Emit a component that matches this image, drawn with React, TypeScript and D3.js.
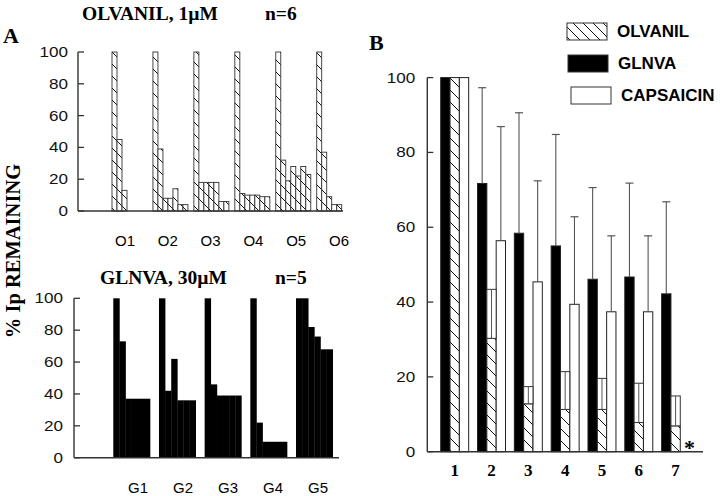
import React from "react";
import * as d3 from "d3";

// ---------- DATA ----------
const oGroups = ["O1", "O2", "O3", "O4", "O5", "O6"];
const oValues = [
  [100, 45, 13],
  [100, 39, 8, 8, 14, 4, 4],
  [100, 18, 18, 18, 18, 6, 6],
  [100, 11, 10, 10, 10, 9, 9],
  [100, 32, 19, 28, 22, 28, 23],
  [100, 37, 9, 4, 4],
];
const gGroups = ["G1", "G2", "G3", "G4", "G5"];
const gValues = [
  [100, 73, 37, 37, 37, 37],
  [100, 42, 62, 36, 36, 36],
  [100, 46, 39, 39, 39, 39],
  [100, 22, 10, 10, 10, 10],
  [100, 100, 82, 76, 68, 68],
];
const bCategories = ["1", "2", "3", "4", "5", "6", "7"];
const bSeries = ["GLNVA", "OLVANIL", "CAPSAICIN"];
const glnvaMean = [100, 71.7, 58.4, 55.0, 46.1, 46.7, 42.2];
const glnvaSD = [0, 25.6, 32.2, 29.8, 24.5, 25.1, 24.6];
const olvanilMean = [100, 30.3, 12.8, 11.3, 11.3, 7.8, 6.9];
const olvanilSD = [0, 13.1, 4.6, 10.1, 8.3, 10.5, 8.0];
const capsaicinMean = [100, 56.4, 45.4, 39.4, 37.4, 37.4, null];
const capsaicinSD = [0, 30.5, 27.0, 23.4, 20.3, 20.3, 0];
const yTickValues = [0, 20, 40, 60, 80, 100];
const legendItems = ["OLVANIL", "GLNVA", "CAPSAICIN"];

const SERIF = "'Liberation Serif', 'Times New Roman', serif";
const SANS = "'Liberation Sans', Arial, sans-serif";
const AXIS = "#333";
const ERR = "#555";

function TickLabel({ x, y, t }: { x: number; y: number; t: string }) {
  return (
    <text
      transform={`translate(${x},${y}) scale(1.22,1)`}
      textAnchor="end"
      dominantBaseline="central"
      fontFamily={SANS}
      fontSize={14}
      fill="#111"
    >
      {t}
    </text>
  );
}

function YAxis({ scale, x, labelGap }: { scale: any; x: number; labelGap: number }) {
  const [y0, y1] = scale.range();
  return (
    <g>
      <line x1={x} x2={x} y1={y0} y2={y1} stroke={AXIS} strokeWidth={1.4} />
      {yTickValues.map((v) => (
        <g key={v}>
          <line x1={x} x2={x + 6} y1={scale(v)} y2={scale(v)} stroke={AXIS} strokeWidth={1.3} />
          <TickLabel x={x - labelGap} y={scale(v)} t={String(v)} />
        </g>
      ))}
    </g>
  );
}

export default function App() {
  // ---- Panel A top (OLVANIL) ----
  const yO = d3.scaleLinear().domain([0, 100]).range([211, 52]);
  const xO = d3.scaleLinear().domain([0, oGroups.length - 1]).range([112, 316.7]);
  const oBarW = 5;
  const xOLab = d3.scaleLinear().domain([0, oGroups.length - 1]).range([125, 339]);

  // ---- Panel A bottom (GLNVA) ----
  const yG = d3.scaleLinear().domain([0, 100]).range([457.7, 298.3]);
  const xG = d3.scaleLinear().domain([0, gGroups.length - 1]).range([113.3, 296]);
  const gBarW = 6.12;
  const xGLab = d3.scaleLinear().domain([0, gGroups.length - 1]).range([138, 318]);

  // ---- Panel B ----
  const yB = d3.scaleLinear().domain([0, 100]).range([451.7, 77.6]);
  const xB = d3
    .scaleBand<string>()
    .domain(bCategories)
    .range([427.3, 703])
    .paddingInner(0.24)
    .paddingOuter(0.364);
  const xSub = d3.scaleBand<string>().domain(bSeries).range([0, xB.bandwidth()]);
  const bw = xSub.bandwidth();

  const seriesData: Record<string, { mean: (number | null)[]; sd: number[] }> = {
    GLNVA: { mean: glnvaMean, sd: glnvaSD },
    OLVANIL: { mean: olvanilMean, sd: olvanilSD },
    CAPSAICIN: { mean: capsaicinMean, sd: capsaicinSD },
  };
  const fillOf = (s: string) =>
    s === "GLNVA" ? "#000" : s === "OLVANIL" ? "url(#hatch)" : "#fff";

  return (
    <svg
      width={720}
      height={496}
      style={{ position: "absolute", left: 0, top: 0, background: "#fff" }}
    >
      <defs>
        <pattern id="hatch" patternUnits="userSpaceOnUse" width={12} height={12}>
          <rect width={12} height={12} fill="#fff" />
          <path d="M0,0 L12,12 M-3,9 L3,15 M9,-3 L15,3" stroke="#111" strokeWidth={1} />
        </pattern>
        <pattern id="hatchL" patternUnits="userSpaceOnUse" width={10} height={10}>
          <rect width={10} height={10} fill="#fff" />
          <path d="M0,0 L10,10 M-3,7 L3,13 M7,-3 L13,3" stroke="#111" strokeWidth={1} />
        </pattern>
      </defs>
      <rect width={720} height={496} fill="#fff" />

      {/* Panel letters */}
      <text x={3} y={43} fontFamily={SERIF} fontWeight="bold" fontSize={22}>A</text>
      <text x={369} y={50} fontFamily={SERIF} fontWeight="bold" fontSize={22}>B</text>

      {/* Y axis title */}
      <text
        transform="translate(20,251) rotate(-90)"
        textAnchor="middle"
        fontFamily={SERIF}
        fontWeight="bold"
        fontSize={20.5}
      >
        % Ip REMAINING
      </text>

      {/* ---------- Top-left panel ---------- */}
      <text x={82} y={20} fontFamily={SERIF} fontWeight="bold" fontSize={19.5}>OLVANIL, 1µM</text>
      <text x={265} y={20} fontFamily={SERIF} fontWeight="bold" fontSize={19.5}>n=6</text>
      {oValues.map((vals, gi) =>
        vals.map((v, i) => (
          <rect
            key={`o${gi}-${i}`}
            x={xO(gi) + i * oBarW}
            y={yO(v)}
            width={oBarW}
            height={yO(0) - yO(v)}
            fill="url(#hatch)"
            stroke="#333"
            strokeWidth={0.9}
          />
        ))
      )}
      <YAxis scale={yO} x={78} labelGap={10} />
      <line x1={78} x2={343} y1={yO(0)} y2={yO(0)} stroke={AXIS} strokeWidth={1.4} />
      {oGroups.map((g, gi) => (
        <text
          key={g}
          x={xOLab(gi)}
          y={246}
          textAnchor="middle"
          fontFamily={SANS}
          fontSize={15}
        >
          {g}
        </text>
      ))}

      {/* ---------- Bottom-left panel ---------- */}
      <text x={100} y={284} fontFamily={SERIF} fontWeight="bold" fontSize={19.5}>GLNVA, 30µM</text>
      <text x={275} y={284} fontFamily={SERIF} fontWeight="bold" fontSize={19.5}>n=5</text>
      {gValues.map((vals, gi) =>
        vals.map((v, i) => (
          <rect
            key={`g${gi}-${i}`}
            x={xG(gi) + i * gBarW}
            y={yG(v)}
            width={gBarW + 0.3}
            height={yG(0) - yG(v)}
            fill="#000"
          />
        ))
      )}
      <YAxis scale={yG} x={74} labelGap={11} />
      <line x1={74} x2={339} y1={yG(0)} y2={yG(0)} stroke={AXIS} strokeWidth={1.4} />
      {gGroups.map((g, gi) => (
        <text
          key={g}
          x={xGLab(gi)}
          y={493}
          textAnchor="middle"
          fontFamily={SANS}
          fontSize={15}
        >
          {g}
        </text>
      ))}

      {/* ---------- Panel B ---------- */}
      {bCategories.map((c, ci) =>
        bSeries.map((s) => {
          const m = seriesData[s].mean[ci];
          if (m == null) return null;
          return (
            <rect
              key={`b${c}-${s}`}
              x={(xB(c) as number) + (xSub(s) as number)}
              y={yB(m)}
              width={bw}
              height={yB(0) - yB(m)}
              fill={fillOf(s)}
              stroke="#222"
              strokeWidth={1}
            />
          );
        })
      )}
      {/* error bars */}
      {bCategories.map((c, ci) =>
        bSeries.map((s) => {
          const m = seriesData[s].mean[ci];
          const sd = seriesData[s].sd[ci];
          if (m == null || !sd) return null;
          const x0 = (xB(c) as number) + (xSub(s) as number);
          const cx = x0 + bw / 2;
          const yTop = yB(m + sd);
          const yBase = yB(m);
          if (s === "OLVANIL") {
            return (
              <g key={`e${c}-${s}`}>
                <rect x={x0} y={yTop} width={bw} height={yBase - yTop} fill="#fff" stroke="#333" strokeWidth={1} />
                <line x1={cx} x2={cx} y1={yTop} y2={yBase} stroke={ERR} strokeWidth={1} />
              </g>
            );
          }
          return (
            <g key={`e${c}-${s}`}>
              <line x1={cx} x2={cx} y1={yTop} y2={yBase} stroke={ERR} strokeWidth={1.1} />
              <line x1={cx - 4} x2={cx + 4} y1={yTop} y2={yTop} stroke={ERR} strokeWidth={1.2} />
            </g>
          );
        })
      )}
      <YAxis scale={yB} x={427.3} labelGap={12} />
      <line x1={427.3} x2={703} y1={yB(0)} y2={yB(0)} stroke={AXIS} strokeWidth={1.4} />
      {bCategories.map((c) => (
        <text
          key={`l${c}`}
          x={(xB(c) as number) + xB.bandwidth() / 2}
          y={476}
          textAnchor="middle"
          fontFamily={SERIF}
          fontWeight="bold"
          fontSize={17}
        >
          {c}
        </text>
      ))}
      {/* significance asterisk on last group */}
      <text
        x={(xB("7") as number) + (xSub("CAPSAICIN") as number) + bw}
        y={455}
        textAnchor="middle"
        fontFamily={SERIF}
        fontWeight="bold"
        fontSize={22}
      >
        *
      </text>

      {/* Legend */}
      {legendItems.map((s, i) => {
        const ly = [23, 55, 87][i];
        const lx = [567, 568, 571][i];
        return (
          <g key={`lg${s}`}>
            <rect
              x={lx}
              y={ly}
              width={40}
              height={17}
              fill={s === "GLNVA" ? "#000" : s === "OLVANIL" ? "url(#hatchL)" : "#fff"}
              stroke="#333"
              strokeWidth={1}
            />
            <text
              x={lx + 50}
              y={ly + 8.5}
              dominantBaseline="central"
              fontFamily={SANS}
              fontWeight="bold"
              fontSize={17}
            >
              {s}
            </text>
          </g>
        );
      })}
    </svg>
  );
}
